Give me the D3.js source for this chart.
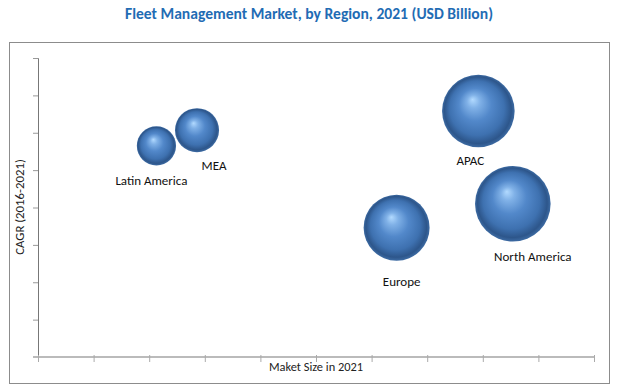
<!DOCTYPE html>
<html>
<head>
<meta charset="utf-8">
<script src="https://cdn.jsdelivr.net/npm/d3@7"></script>
<style>
  body { margin: 0; background: #fff; }
  text { font-family: Carlito, Calibri, "Liberation Sans", "DejaVu Sans", sans-serif; }
</style>
</head>
<body>
<svg id="chart"></svg>
<script>
// data
const regions = ["Latin America", "MEA", "APAC", "North America", "Europe"];
const marketSize = [2.13, 2.86, 7.92, 8.54, 6.45];   // x (no tick labels shown)
const cagr = [5.65, 6.07, 6.58, 4.10, 3.46];          // y (no tick labels shown)
const bubbleSize = [2.69, 3.39, 9.22, 10.0, 7.62];    // bubble area

// label placement, relative to bubble centre
const labelOffsets = [[-5, 35], [17, 35], [-8, 49], [20, 53], [5, 54]];

const width = 617, height = 389;
const margin = { left: 38, right: 23, top: 58, bottom: 32 };

const svg = d3.select("#chart")
    .attr("width", width)
    .attr("height", height);

/* gradient for the 3D spheres */
const defs = svg.append("defs");
const grad = defs.append("radialGradient")
    .attr("id", "sphere")
    .attr("cx", "0.5").attr("cy", "0.5").attr("r", "0.5")
    .attr("fx", "0.42").attr("fy", "0.34");
[
    ["0%", "#b2daff"],
    ["18%", "#80b1e7"],
    ["45%", "#5288ca"],
    ["75%", "#3e71b0"],
    ["92%", "#2d568b"],
    ["100%", "#3d6ba3"]
].forEach(s => grad.append("stop").attr("offset", s[0]).attr("stop-color", s[1]));

// outer frame
svg.append("rect")
    .attr("x", 9.5).attr("y", 42.5)
    .attr("width", 600).attr("height", 341)
    .attr("fill", "none")
    .attr("stroke", "#8c8c8c");

// title
svg.append("text")
    .attr("x", 309).attr("y", 19)
    .attr("text-anchor", "middle")
    .attr("font-size", "15.6px")
    .attr("font-weight", "bold")
    .attr("fill", "#1f6cb4")
    .text("Fleet Management Market, by Region, 2021 (USD Billion)");

/* scales */
const x = d3.scaleLinear().domain([0, 10]).range([margin.left, width - margin.right]);
const y = d3.scaleLinear().domain([0, 8]).range([height - margin.bottom, margin.top]);
const r = d3.scaleSqrt().domain([0, d3.max(bubbleSize)]).range([0, 37.8]);

/* axes */
const yAxis = svg.append("g")
    .attr("transform", `translate(${x(0)},0)`)
    .call(d3.axisLeft(y).ticks(8).tickSize(5).tickFormat(""));
yAxis.select(".domain").attr("stroke", "#777");
yAxis.selectAll(".tick line").attr("stroke", "#999");

const xAxis = svg.append("g")
    .attr("transform", `translate(0,${y(0)})`)
    .call(d3.axisBottom(x).ticks(10).tickSize(5).tickSizeOuter(0).tickFormat(""));
xAxis.select(".domain")
    .attr("d", `M${x(0) - 5},0H${x(10)}`)
    .attr("stroke", "#bbb")
    .attr("stroke-width", 2);
xAxis.selectAll(".tick line").attr("stroke", "#aaa").attr("y1", -2);

// axis titles
svg.append("text")
    .attr("x", 316).attr("y", 371)
    .attr("text-anchor", "middle")
    .attr("font-size", "12.4px")
    .attr("fill", "#222")
    .text("Maket Size in 2021");

svg.append("text")
    .attr("transform", `translate(24,207) rotate(-90)`)
    .attr("text-anchor", "middle")
    .attr("font-size", "12.8px")
    .attr("fill", "#222")
    .text("CAGR (2016-2021)");

/* bubbles */
const points = regions.map((name, i) => ({
    name: name,
    x: marketSize[i],
    y: cagr[i],
    size: bubbleSize[i],
    off: labelOffsets[i]
}));

svg.append("g")
    .selectAll("circle")
    .data(points)
    .enter()
    .append("circle")
    .attr("cx", d => x(d.x))
    .attr("cy", d => y(d.y))
    .attr("r", d => r(d.size))
    .attr("fill", "url(#sphere)");

svg.append("g")
    .selectAll("text")
    .data(points)
    .enter()
    .append("text")
    .attr("x", d => x(d.x) + d.off[0])
    .attr("y", d => y(d.y) + d.off[1])
    .attr("dy", "0.35em")
    .attr("text-anchor", "middle")
    .attr("font-size", "13px")
    .attr("fill", "#111")
    .text(d => d.name);
</script>
</body>
</html>
